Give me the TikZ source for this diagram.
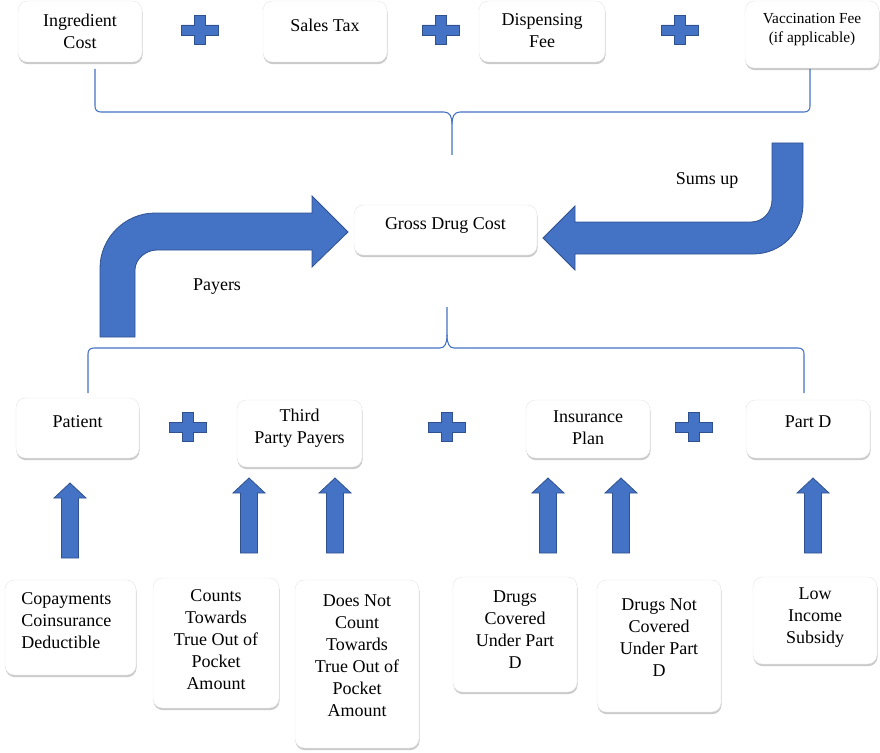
\documentclass[tikz,border=0pt]{standalone}
\usepackage{fontspec}
\setmainfont{LiberationSerif-Regular.ttf}[BoldFont=LiberationSerif-Bold.ttf]
\usetikzlibrary{shadows,fit}

\definecolor{boxblue}{HTML}{4472C4}
\definecolor{edgeblue}{HTML}{2F528F}

\tikzset{
  card/.style={fill=white, draw=black!10, line width=0.3pt, rounded corners=7pt, inner sep=0pt,
    drop shadow={shadow xshift=0.4pt, shadow yshift=-1.6pt, opacity=0.35, fill=black!60}},
  lbl/.style={align=center, inner sep=0pt, font=\rmfamily\fontsize{13.5}{16.5}\selectfont},
  blk/.style={fill=boxblue, draw=edgeblue, line width=0.6pt},
  brace/.style={draw=boxblue, line width=0.8pt},
}

\begin{document}
\begin{tikzpicture}[x=0.75pt,y=-0.75pt]
  \useasboundingbox (0,0) rectangle (880,752);

  % cost parts
  \node[card, fit={(18,1) (142,62)}] (ingr) {};
  \node[lbl] (ingr-t) at (80,31) {Ingredient\\Cost};
  \node[card, fit={(263,1) (387,62)}] (tax) {};
  \node[lbl] (tax-t) at (325,25) {Sales Tax};
  \node[card, fit={(479,1) (605,62)}] (disp) {};
  \node[lbl] (disp-t) at (542,31) {Dispensing\\Fee};
  \node[card, fit={(745,1) (879,68)}] (vacc) {};
  \node[lbl, font=\rmfamily\fontsize{11.5}{14}\selectfont] (vacc-t) at (812,29.5) {Vaccination Fee\\(if applicable)};

  \node[card, fit={(354,205) (537,255)}] (gross) {};
  \node[lbl] (gross-t) at (445.5,225) {Gross Drug Cost};

  % payers
  \node[card, fit={(16,398) (139,458)}] (patient) {};
  \node[lbl] (patient-t) at (77.5,422) {Patient};
  \node[card, fit={(237,400) (362,467)}] (third) {};
  \node[lbl] (third-t) at (299.5,428) {Third\\Party Payers};
  \node[card, fit={(526,400) (650,458)}] (ins) {};
  \node[lbl] (ins-t) at (588,427.5) {Insurance\\Plan};
  \node[card, fit={(746,400) (870,458)}] (partd) {};
  \node[lbl] (partd-t) at (808,422) {Part D};

  % sources
  \node[card, fit={(5,580) (136,675)}] (copay) {};
  \node[lbl, align=left, anchor=west] (copay-t) at (21,621) {Copayments\\Coinsurance\\Deductible};
  \node[card, fit={(153,578) (279,708)}] (counts) {};
  \node[lbl] (counts-t) at (216,640) {Counts\\Towards\\True Out of\\Pocket\\Amount};
  \node[card, fit={(295,580) (419,748)}] (nocount) {};
  \node[lbl] (nocount-t) at (357,656) {Does Not\\Count\\Towards\\True Out of\\Pocket\\Amount};
  \node[card, fit={(453,577) (577,692)}] (covered) {};
  \node[lbl] (covered-t) at (515,630) {Drugs\\Covered\\Under Part\\D};
  \node[card, fit={(597,580) (721,712)}] (notcov) {};
  \node[lbl] (notcov-t) at (659,638) {Drugs Not\\Covered\\Under Part\\D};
  \node[card, fit={(753,577) (877,664)}] (lis) {};
  \node[lbl] (lis-t) at (815,618) {Low\\Income\\Subsidy};

  % plus signs
  \foreach \cx/\cy in {200/30, 441/30, 680/30, 188/427, 447/427, 694/427}
    \draw[blk] (\cx,\cy) ++(-5.5,-14.5) -- ++(11,0) -- ++(0,9.5) -- ++(13,0) -- ++(0,10)
      -- ++(-13,0) -- ++(0,9.5) -- ++(-11,0) -- ++(0,-9.5) -- ++(-13,0) -- ++(0,-10) -- ++(13,0) -- cycle;

  % up arrows
  \foreach \cx/\yt/\yb in {70/483/558, 249/478/553, 335/478/553, 548/478/553, 621/478/553, 813/478/553}
    \draw[blk] ({\cx-8.5},\yb) -- ({\cx-8.5},{\yt+15}) -- ({\cx-16},{\yt+15}) -- (\cx,\yt)
      -- ({\cx+16},{\yt+15}) -- ({\cx+8.5},{\yt+15}) -- ({\cx+8.5},\yb) -- cycle;

  % braces
  \coordinate (tb-tip) at (452,155);
  \coordinate (bb-tip) at (447,307);
  \draw[brace] (95,69) -- (95,106) .. controls (95,110) and (97,112) .. (101,112) -- (444,112)
    .. controls (450,112) and (452,117) .. (452,124) -- (tb-tip);
  \draw[brace] (452,124) .. controls (452,117) and (454,112) .. (460,112) -- (804,112)
    .. controls (808,112) and (810,110) .. (810,106) -- (810,69);
  \draw[brace] (88,393) -- (88,354) .. controls (88,350) and (90,348) .. (94,348) -- (440,348)
    .. controls (445,348) and (447,343) .. (447,335) -- (bb-tip);
  \draw[brace] (447,335) .. controls (447,343) and (449,348) .. (454,348) -- (798,348)
    .. controls (802,348) and (804,350) .. (804,354) -- (804,393);

  % bent arrows
  \draw[blk] (100,337) -- (100,268) .. controls (100,238) and (125,213) .. (155,213) -- (312,213)
    -- (312,196) -- (348,232) -- (312,267) -- (312,250) -- (157,250)
    .. controls (146,250) and (135,259) .. (135,270) -- (135,337) -- cycle;
  \draw[blk] (772,143) -- (803,143) -- (803,204) .. controls (803,232) and (781,254) .. (753,254)
    -- (575,254) -- (575,270) -- (543,238) -- (575,206) -- (575,222) -- (751,222)
    .. controls (763,222) and (772,212) .. (772,200) -- cycle;

  \node[lbl] (sums) at (707,180) {Sums up};
  \node[lbl] (payers) at (217,287) {Payers};
\end{tikzpicture}
\end{document}
